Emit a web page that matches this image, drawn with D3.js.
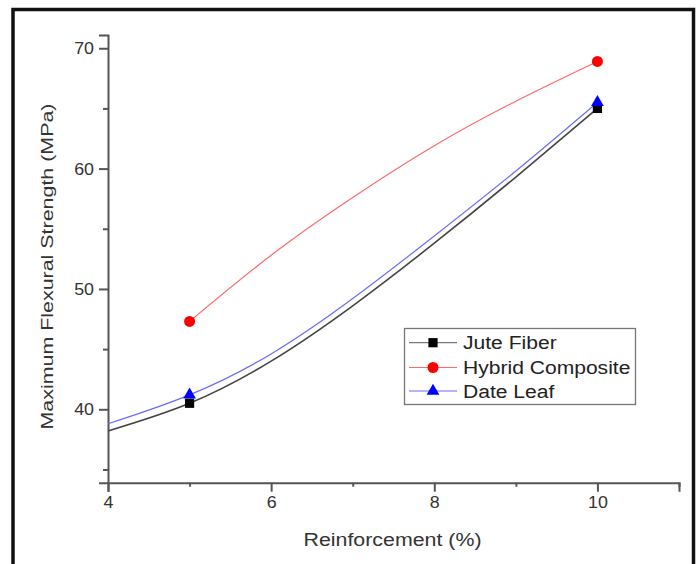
<!DOCTYPE html>
<html>
<head>
<meta charset="utf-8">
<script src="https://cdn.jsdelivr.net/npm/d3@7"></script>
<style>
  html, body { margin: 0; padding: 0; background: #fff; }
  svg { display: block; font-family: "Liberation Sans", Arial, sans-serif; }
</style>
</head>
<body>
<svg id="chart" width="699" height="564"></svg>
<script>
// ---- data ----
const seriesNames = ["Jute Fiber", "Hybrid Composite", "Date Leaf"];
const pointX = [5, 10];
const juteValues = [40.5, 65.0];
const hybridValues = [47.3, 68.9];
const dateValues = [41.2, 65.5];

// fitted curves as drawn in the figure
const curveXJute = [4, 5, 6, 7, 8, 9, 10];
const curveJute = [38.2, 40.5, 44.0, 48.6, 53.8, 59.3, 65.0];
const curveXDate = [4, 5, 6, 7, 8, 9, 10];
const curveDate = [38.8, 41.2, 44.6, 49.2, 54.4, 59.8, 65.5];
const curveXHybrid = [5, 6, 7, 8, 9, 10];
const curveHybrid = [47.3, 52.8, 57.6, 61.9, 65.6, 68.9];

const xTicks = [4, 6, 8, 10];
const xMinorTicks = [5, 7, 9, 11];
const yTicks = [40, 50, 60, 70];
const yMinorTicks = [35, 45, 55, 65];

// ---- layout ----
const svg = d3.select("#chart");
const x = d3.scaleLinear().domain([4, 11]).range([108, 679]);
const y = d3.scaleLinear().domain([33.9, 71.1]).range([482.7, 35]);
const fontFam = "Liberation Sans, Arial, sans-serif";

function widen(sel, k) {
  sel.each(function() {
    const w = this.getComputedTextLength();
    if (w > 0) d3.select(this).attr("textLength", w * k).attr("lengthAdjust", "spacingAndGlyphs");
  });
}

// outer frame
svg.append("rect")
  .attr("x", 13).attr("y", 9.5)
  .attr("width", 680.5).attr("height", 600)
  .attr("fill", "none").attr("stroke", "#111").attr("stroke-width", 3.5);

const axisColor = "#555";
const textColor = "#333";

// x axis
const gx = svg.append("g").attr("transform", `translate(0,${y.range()[0]})`);
gx.call(d3.axisBottom(x).tickValues(xTicks).tickSize(9).tickFormat(d3.format("d")));
gx.append("g").call(d3.axisBottom(x).tickValues(xMinorTicks).tickSize(4).tickFormat(""));
gx.attr("font-size", 17).attr("font-family", fontFam);
gx.selectAll("g > g > path.domain").remove();
gx.selectAll("path.domain").attr("stroke", axisColor).attr("stroke-width", 2);
gx.selectAll(".tick line").attr("stroke", axisColor).attr("stroke-width", 2);
gx.selectAll(".tick text").attr("fill", textColor).attr("dy", "0.85em").attr("y", 11);
widen(gx.selectAll(".tick text"), 1.05);

// y axis
const gy = svg.append("g").attr("transform", `translate(${x.range()[0]},0)`);
gy.call(d3.axisLeft(y).tickValues(yTicks).tickSize(9).tickFormat(d3.format("d")));
gy.append("g").call(d3.axisLeft(y).tickValues(yMinorTicks).tickSize(5).tickFormat(""));
gy.attr("font-size", 17).attr("font-family", fontFam);
gy.selectAll("g > g > path.domain").remove();
gy.selectAll("path.domain").attr("stroke", axisColor).attr("stroke-width", 2);
gy.selectAll(".tick line").attr("stroke", axisColor).attr("stroke-width", 2);
gy.selectAll(".tick text").attr("fill", textColor).attr("x", -14);
widen(gy.selectAll(".tick text"), 1.05);

// axis titles
svg.append("text")
  .attr("x", (x.range()[0] + x.range()[1]) / 2 - 1).attr("y", 546)
  .attr("text-anchor", "middle").attr("font-size", 18).attr("fill", textColor)
  .text("Reinforcement (%)")
  .attr("textLength", 178).attr("lengthAdjust", "spacingAndGlyphs");

svg.append("text")
  .attr("transform", `translate(53,${(103 + 430) / 2}) rotate(-90)`)
  .attr("text-anchor", "middle").attr("font-size", 16.5).attr("fill", textColor)
  .text("Maximum Flexural Strength (MPa)")
  .attr("textLength", 326).attr("lengthAdjust", "spacingAndGlyphs");

// curves
const line = d3.line().x(d => x(d[0])).y(d => y(d[1])).curve(d3.curveNatural);
const styles = [
  { color: "#000", line: "#444", lw: 1.6, marker: "square" },
  { color: "#ff0000", line: "#ff6a6a", lw: 1.2, marker: "circle" },
  { color: "#0000ff", line: "#6a6aff", lw: 1.2, marker: "triangle" }
];
const curves = [
  d3.zip(curveXJute, curveJute),
  d3.zip(curveXHybrid, curveHybrid),
  d3.zip(curveXDate, curveDate)
];
const points = [juteValues, hybridValues, dateValues].map(v => d3.zip(pointX, v));

curves.forEach((c, i) => {
  svg.append("path").datum(c)
    .attr("d", line).attr("fill", "none")
    .attr("stroke", styles[i].line).attr("stroke-width", styles[i].lw);
});

const sym = {
  square: d3.symbol().type(d3.symbolSquare).size(85),
  circle: d3.symbol().type(d3.symbolCircle).size(95),
  triangle: d3.symbol().type(d3.symbolTriangle).size(70)
};

points.forEach((p, i) => {
  svg.append("g").selectAll("path").data(p).join("path")
    .attr("transform", d => `translate(${x(d[0])},${y(d[1])})`)
    .attr("d", sym[styles[i].marker]())
    .attr("fill", styles[i].color);
});

// legend
const lg = svg.append("g");
lg.append("rect").attr("x", 404.5).attr("y", 328.5).attr("width", 231).attr("height", 76)
  .attr("fill", "#fff").attr("stroke", "#777").attr("stroke-width", 1.3);
const rowY = [342.7, 367.5, 391];
seriesNames.forEach((name, i) => {
  const ry = rowY[i];
  lg.append("line").attr("x1", 409).attr("x2", 457).attr("y1", ry).attr("y2", ry)
    .attr("stroke", i === 0 ? "#777" : styles[i].line).attr("stroke-width", 1.2);
  lg.append("path").attr("transform", `translate(433,${ry})`)
    .attr("d", sym[styles[i].marker]()).attr("fill", styles[i].color);
  const t = lg.append("text").attr("x", 463).attr("y", ry + 6.5)
    .attr("font-size", 18).attr("fill", "#222").text(name);
  widen(t, 1.17);
});
</script>
</body>
</html>
